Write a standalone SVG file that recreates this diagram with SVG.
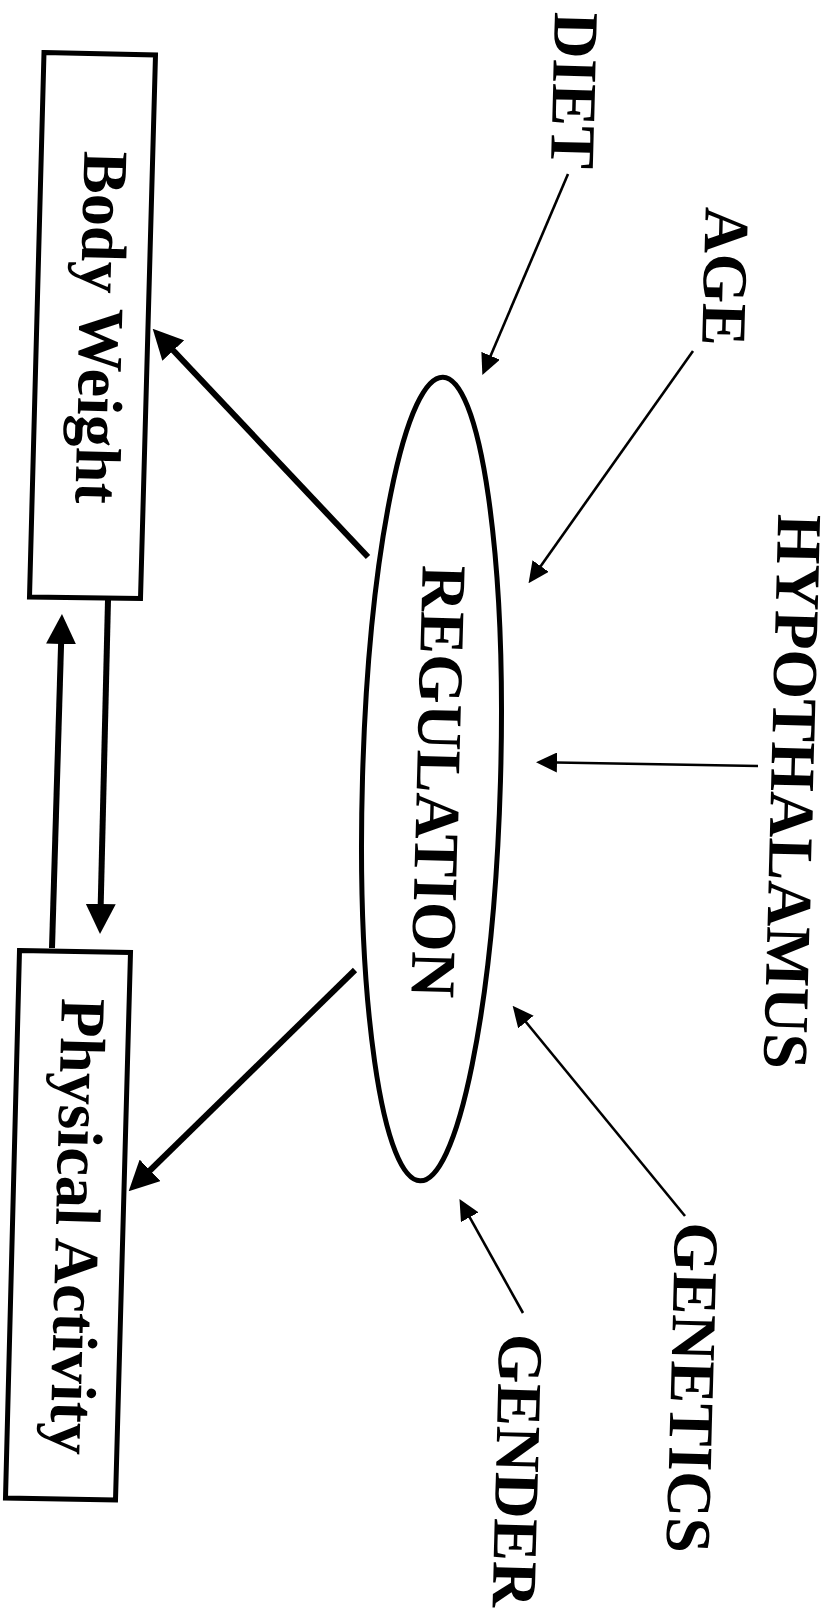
<svg xmlns="http://www.w3.org/2000/svg" width="830" height="1611" viewBox="0 0 830 1611">
  <style>
    .box { fill: #ffffff; stroke: #000000; stroke-width: 5; stroke-linejoin: miter; }
    .oval { fill: #ffffff; stroke: #000000; stroke-width: 5; }
    .lbl { font-family: "Liberation Serif", "Times New Roman", serif; font-weight: bold; font-size: 64px; fill: #000000; text-anchor: middle; }
    .thick { stroke: #000000; stroke-width: 6; fill: none; marker-end: url(#ahThick); }
    .thin { stroke: #000000; stroke-width: 2.6; fill: none; marker-end: url(#ahThin); }
  </style>
  <defs>
    <marker id="ahThick" markerUnits="userSpaceOnUse" viewBox="0 0 30 30" markerWidth="30" markerHeight="30" refX="1" refY="15" orient="auto">
      <path d="M0,0 L30,15 L0,30 z" fill="#000000"/>
    </marker>
    <marker id="ahThin" markerUnits="userSpaceOnUse" viewBox="0 0 21 20" markerWidth="21" markerHeight="20" refX="1" refY="10" orient="auto">
      <path d="M0,0 L21,10 L0,20 z" fill="#000000"/>
    </marker>
  </defs>
  <rect x="0" y="0" width="830" height="1611" fill="#ffffff"/>

  <g id="body-weight">
    <polygon class="box" points="44,52.5 155.5,55 140.5,598.5 29.5,597"/>
    <text class="lbl" transform="translate(80,327) rotate(91.5)">Body Weight</text>
  </g>

  <g id="physical-activity">
    <polygon class="box" points="19.5,950.5 130.5,952.5 115.5,1500 5.5,1498"/>
    <text class="lbl" transform="translate(56,1226) rotate(91.5)">Physical Activity</text>
  </g>

  <g id="regulation">
    <ellipse class="oval" cx="431.5" cy="779" rx="69" ry="402" transform="rotate(1.63 431.5 779)"/>
    <text class="lbl" transform="translate(417,781) rotate(91.5)">REGULATION</text>
  </g>

  <g id="diet">
    <text class="lbl" transform="translate(553,90) rotate(91.5)">DIET</text>
  </g>
  <g id="age">
    <text class="lbl" transform="translate(704,276) rotate(91.5)">AGE</text>
  </g>
  <g id="hypothalamus">
    <text class="lbl" transform="translate(771,791) rotate(91.5)">HYPOTHALAMUS</text>
  </g>
  <g id="genetics">
    <text class="lbl" transform="translate(671,1387) rotate(91.5)">GENETICS</text>
  </g>
  <g id="gender">
    <text class="lbl" transform="translate(496,1470) rotate(91.5)">GENDER</text>
  </g>

  <g id="connectors">
    <line class="thin" x1="568" y1="174" x2="490.2" y2="356.7"/>
    <line class="thin" x1="693" y1="351" x2="540.1" y2="566.9"/>
    <line class="thin" x1="758" y1="766" x2="556" y2="762.5"/>
    <line class="thin" x1="685" y1="1216" x2="525.3" y2="1021.2"/>
    <line class="thin" x1="523" y1="1313" x2="469.2" y2="1216.4"/>
    <line class="thick" x1="368" y1="557" x2="172.6" y2="349.8"/>
    <line class="thick" x1="355" y1="970" x2="149.4" y2="1171"/>
    <line class="thick" x1="108" y1="600" x2="100.7" y2="905"/>
    <line class="thick" x1="52" y1="948" x2="61.1" y2="643"/>
  </g>
</svg>
